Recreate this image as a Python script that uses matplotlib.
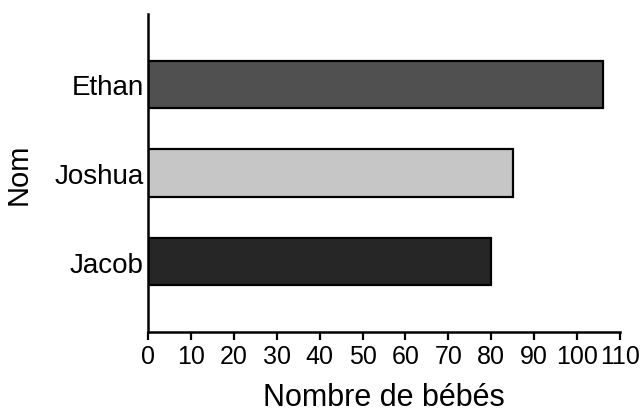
import matplotlib
matplotlib.use('Agg')
import matplotlib.pyplot as plt

noms = ['Jacob', 'Joshua', 'Ethan']
bebes = [80, 85, 106]
couleurs = ['#262626', '#c6c6c6', '#505050']
xticks = list(range(0, 111, 10))

plt.rcParams['font.family'] = ['Liberation Sans', 'DejaVu Sans']

fig = plt.figure(figsize=(6.44, 4.14), dpi=100)
ax = fig.add_axes([148/644, 1 - 333/414, (620 - 148)/644, (333 - 15)/414])

ax.barh(range(len(noms)), bebes, height=0.53, color=couleurs,
        edgecolor='black', linewidth=1.6)

ax.set_xlim(0, 110)
ax.set_ylim(-0.79, 2.79)
ax.set_xticks(xticks)
ax.set_xticklabels([str(t) for t in xticks], fontsize=18)
ax.set_yticks(range(len(noms)))
ax.set_yticklabels(noms, fontsize=20)
ax.tick_params(axis='y', length=0, pad=3)
ax.tick_params(axis='x', direction='out', length=6, width=1.6, pad=3)

for s in ['top', 'right']:
    ax.spines[s].set_visible(False)
for s in ['left', 'bottom']:
    ax.spines[s].set_linewidth(1.8)

ax.set_xlabel('Nombre de bébés', fontsize=22, labelpad=10)
ax.set_ylabel('Nom', fontsize=21, labelpad=16)

fig.savefig('out.png', dpi=100)
